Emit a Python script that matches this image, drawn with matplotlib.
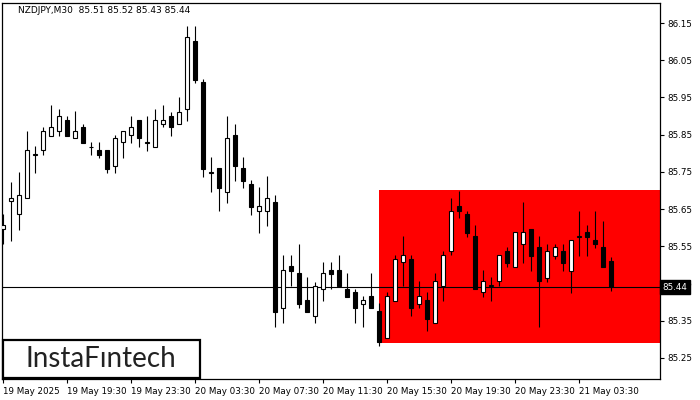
import numpy as np
import matplotlib
matplotlib.use("Agg")
import matplotlib.pyplot as plt
from matplotlib.patches import Rectangle

# NZDJPY M30 candles (open, high, low, close)
opens = [85.595, 85.671, 85.636, 85.679, 85.796, 85.808, 85.847, 85.859, 85.889, 85.840,
         85.870, 85.818, 85.809, 85.809, 85.766, 85.829, 85.848, 85.889, 85.827, 85.818,
         85.878, 85.899, 85.878, 85.918, 86.102, 85.991, 85.748, 85.759, 85.697, 85.848,
         85.759, 85.717, 85.645, 85.645, 85.668, 85.385, 85.497, 85.477, 85.405, 85.363,
         85.435, 85.486, 85.486, 85.435, 85.426, 85.395, 85.416, 85.376, 85.304, 85.403,
         85.507, 85.515, 85.395, 85.405, 85.344, 85.444, 85.536, 85.658, 85.637, 85.577,
         85.426, 85.444, 85.456, 85.536, 85.495, 85.555, 85.595, 85.547, 85.465, 85.524,
         85.536, 85.484, 85.576, 85.587, 85.566, 85.547, 85.510]
highs = [85.637, 85.723, 85.749, 85.860, 85.819, 85.870, 85.930, 85.919, 85.899, 85.913,
         85.878, 85.829, 85.829, 85.809, 85.848, 85.859, 85.899, 85.889, 85.899, 85.919,
         85.930, 85.910, 85.950, 86.142, 86.142, 85.999, 85.790, 85.759, 85.899, 85.878,
         85.790, 85.728, 85.708, 85.739, 85.688, 85.526, 85.526, 85.556, 85.466, 85.455,
         85.507, 85.507, 85.526, 85.477, 85.435, 85.416, 85.477, 85.397, 85.426, 85.526,
         85.577, 85.526, 85.456, 85.426, 85.477, 85.537, 85.680, 85.698, 85.646, 85.607,
         85.486, 85.466, 85.526, 85.547, 85.587, 85.668, 85.595, 85.577, 85.556, 85.556,
         85.556, 85.566, 85.646, 85.607, 85.646, 85.617, 85.520]
lows = [85.556, 85.565, 85.594, 85.679, 85.748, 85.796, 85.847, 85.847, 85.847, 85.840,
        85.828, 85.796, 85.788, 85.748, 85.748, 85.788, 85.828, 85.818, 85.807, 85.818,
        85.870, 85.847, 85.878, 85.887, 85.989, 85.737, 85.696, 85.645, 85.667, 85.726,
        85.707, 85.634, 85.586, 85.604, 85.334, 85.344, 85.443, 85.385, 85.374, 85.344,
        85.403, 85.435, 85.444, 85.414, 85.344, 85.334, 85.385, 85.283, 85.304, 85.403,
        85.444, 85.363, 85.385, 85.323, 85.344, 85.403, 85.526, 85.627, 85.576, 85.435,
        85.414, 85.403, 85.444, 85.495, 85.495, 85.506, 85.484, 85.334, 85.455, 85.515,
        85.484, 85.425, 85.524, 85.524, 85.546, 85.495, 85.430]
closes = [85.607, 85.681, 85.688, 85.809, 85.798, 85.859, 85.870, 85.899, 85.847, 85.859,
          85.828, 85.817, 85.796, 85.758, 85.840, 85.859, 85.870, 85.840, 85.829, 85.889,
          85.889, 85.870, 85.910, 86.112, 85.998, 85.758, 85.750, 85.707, 85.840, 85.766,
          85.726, 85.656, 85.657, 85.679, 85.374, 85.486, 85.484, 85.395, 85.374, 85.444,
          85.477, 85.476, 85.444, 85.414, 85.385, 85.405, 85.385, 85.293, 85.416, 85.515,
          85.526, 85.385, 85.415, 85.353, 85.456, 85.526, 85.646, 85.645, 85.586, 85.435,
          85.456, 85.446, 85.526, 85.506, 85.587, 85.587, 85.524, 85.456, 85.536, 85.547,
          85.506, 85.566, 85.578, 85.576, 85.555, 85.495, 85.440]

time_labels = ["19 May 2025", "19 May 19:30", "19 May 23:30", "20 May 03:30", "20 May 07:30",
               "20 May 11:30", "20 May 15:30", "20 May 19:30", "20 May 23:30", "21 May 03:30"]
price_ticks = [85.25, 85.35, 85.45, 85.55, 85.65, 85.75, 85.85, 85.95, 86.05, 86.15]

# pattern zone (red box) and current price
zone_start = 47
zone_top = 85.70
zone_bottom = 85.29
last_price = 85.44

title = "NZDJPY,M30  85.51 85.52 85.43 85.44"

o = np.array(opens); h = np.array(highs); l = np.array(lows); c = np.array(closes)
x = np.arange(len(o))

fig = plt.figure(figsize=(7, 4), dpi=100)
ax = fig.add_axes([2/700, 21/400, 658/700, 376/400])
ax.set_xlim(-0.125, 82.125)
ax.set_ylim(85.193, 86.204)

ax.add_patch(Rectangle((zone_start, zone_bottom), 100, zone_top - zone_bottom,
                       facecolor="#ff0000", edgecolor="none", zorder=0))
ax.axhline(last_price, color="black", lw=0.8, zorder=1)

# wicks then bodies
ax.vlines(x, l, h, color="black", lw=0.8, zorder=2)
up = c >= o
bottoms = np.minimum(o, c)
heights = np.abs(c - o)
ax.bar(x[up], heights[up], bottom=bottoms[up], width=0.55, color="white",
       edgecolor="black", lw=0.8, zorder=3)
ax.bar(x[~up], heights[~up], bottom=bottoms[~up], width=0.55, color="black",
       edgecolor="black", lw=0.8, zorder=3)

for s in ax.spines.values():
    s.set_linewidth(0.9)

ax.yaxis.tick_right()
ax.set_yticks(price_ticks)
ax.set_yticklabels([f"{p:.2f}" for p in price_ticks])
ax.set_xticks(np.arange(len(time_labels)) * 8)
ax.set_xticklabels(time_labels, ha="left")
ax.tick_params(axis="both", direction="out", length=3, width=0.8, labelsize=6.3, pad=2)
ax.tick_params(axis="x", pad=3)

# current price box sits over the 85.45 label, as in the terminal
ax.text(1.004, last_price, f"{last_price:.2f}", transform=ax.get_yaxis_transform(),
        ha="left", va="center", fontsize=6.3, color="white",
        bbox=dict(boxstyle="square,pad=0.25", fc="black", ec="black"), clip_on=False, zorder=5)

ax.text(16/658, 0.981, title, transform=ax.transAxes, fontsize=6.5, va="center", ha="left")

# logo box
fig.patches.append(Rectangle((3/700, 22/400), 197/700, 38/400, transform=fig.transFigure,
                             facecolor="white", edgecolor="black", lw=1.6, zorder=10))
fig.text(101/700, 41/400, "InstaF\u0131ntech", ha="center", va="center",
         fontsize=20, color="#222222", family="Lato", zorder=11)

fig.savefig("out.png", dpi=100)
